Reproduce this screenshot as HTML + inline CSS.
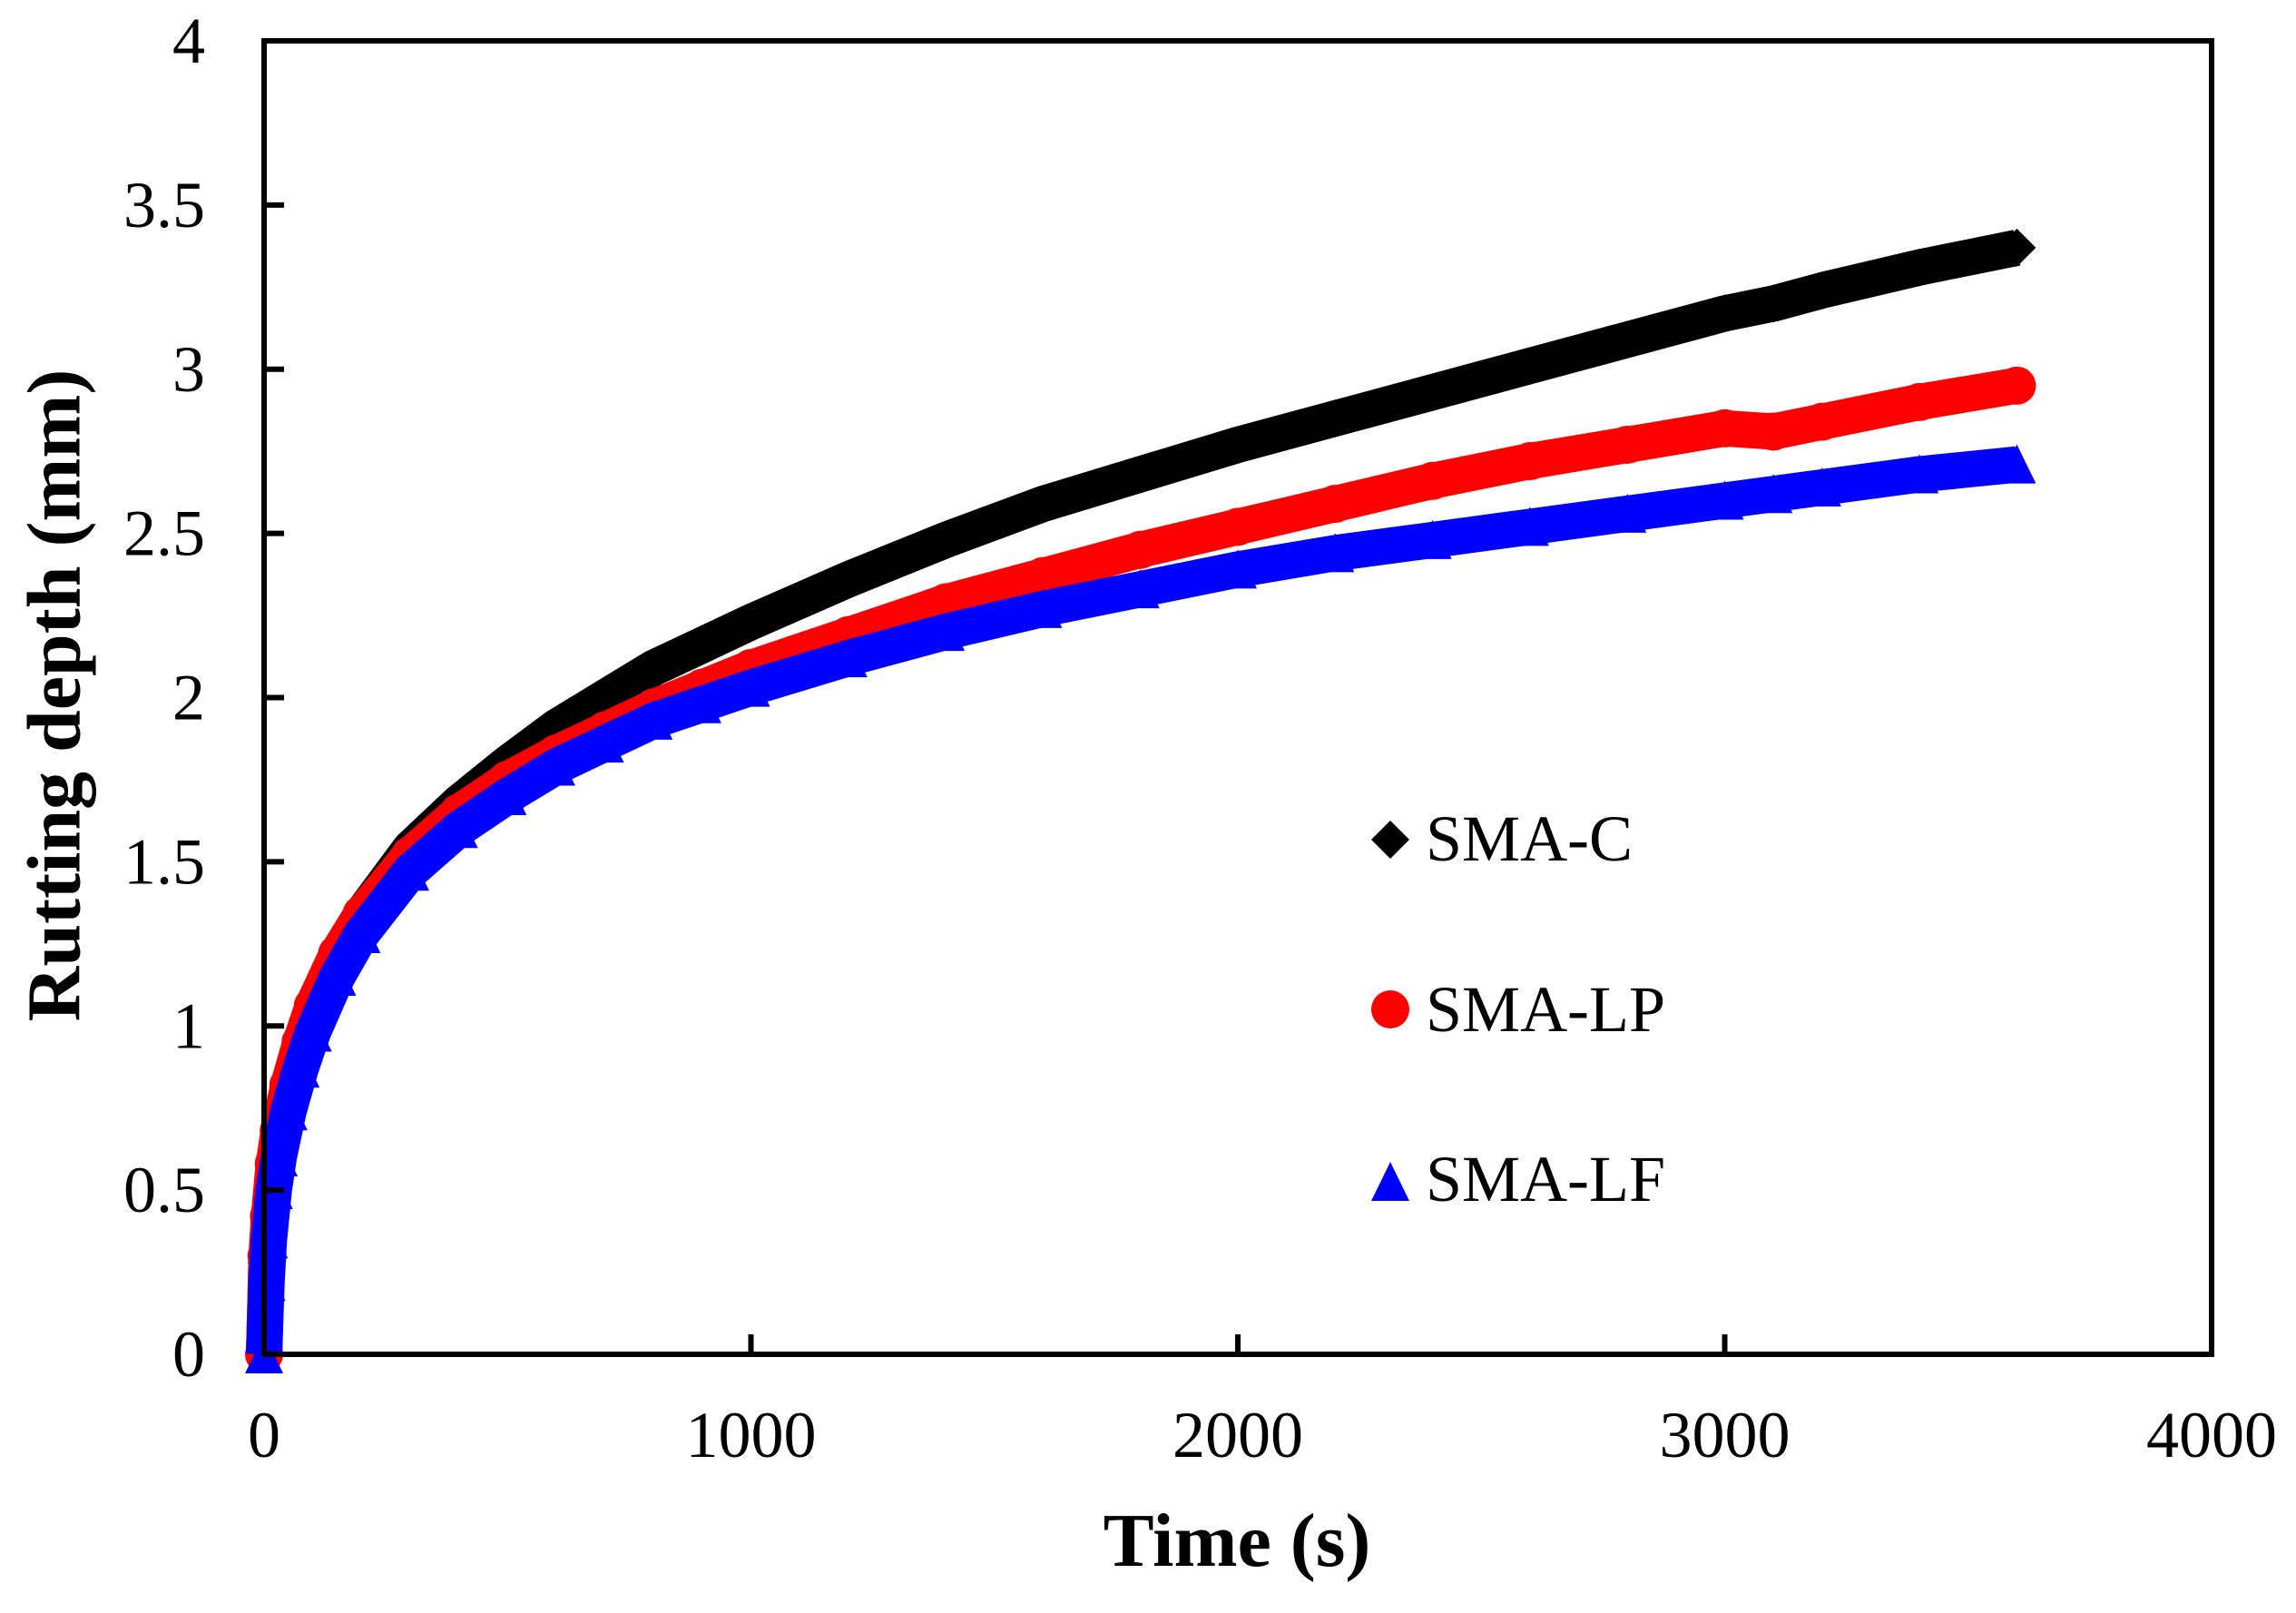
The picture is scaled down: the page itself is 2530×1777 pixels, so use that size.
<!DOCTYPE html>
<html><head><meta charset="utf-8"><style>
html,body{margin:0;padding:0;background:#fff}
svg{display:block}
text{font-family:"Liberation Serif","Times New Roman",serif;fill:#000}
</style></head><body>
<svg id="chart" width="2530" height="1777" viewBox="0 0 2530 1777" xmlns="http://www.w3.org/2000/svg">
<rect width="2530" height="1777" fill="#fff"/>
<g id="series"></g>
<g id="axes"></g>
<text x="68" y="766" font-size="84" font-weight="bold" text-anchor="middle" dominant-baseline="middle" transform="rotate(-90 68 766)">Rutting depth (mm)</text>
<text x="1363" y="1725" font-size="84" font-weight="bold" text-anchor="middle">Time (s)</text>
<g>
  <polygon points="1532,904 1553,925 1532,946 1511,925" fill="#000"/>
  <text x="1571" y="948" font-size="72">SMA-C</text>
  <circle cx="1532" cy="1112" r="21" fill="#ff0000"/>
  <text x="1571" y="1136" font-size="72">SMA-LP</text>
  <polygon points="1532,1280 1553,1323 1511,1323" fill="#0000ff"/>
  <text x="1571" y="1323" font-size="72">SMA-LF</text>
</g>
</svg>
<script>
const times = [0,5,10,20,30,50,75,100,150,200,300,400,500,600,700,800,900,1000,1200,1400,1600,1800,2000,2200,2400,2600,2800,3000,3100,3200,3400,3600];
const smaC = [0,0.28,0.40,0.56,0.66,0.80,0.93,1.04,1.21,1.34,1.54,1.68,1.80,1.91,2.00,2.09,2.16,2.23,2.36,2.48,2.59,2.68,2.77,2.85,2.93,3.01,3.09,3.17,3.20,3.24,3.31,3.37];
const smaLP = [0,0.30,0.42,0.58,0.68,0.82,0.95,1.06,1.22,1.34,1.52,1.65,1.75,1.83,1.90,1.97,2.03,2.09,2.19,2.29,2.37,2.45,2.52,2.59,2.66,2.72,2.77,2.82,2.81,2.84,2.90,2.95];
const smaLF = [0,0.22,0.35,0.50,0.60,0.74,0.87,0.98,1.15,1.28,1.47,1.60,1.70,1.79,1.86,1.93,1.98,2.03,2.12,2.20,2.27,2.33,2.39,2.44,2.48,2.52,2.56,2.60,2.62,2.64,2.68,2.71];
const xTicks = [0,1000,2000,3000,4000];
const xTickLabels = ["0","1000","2000","3000","4000"];
const yTicks = [0,0.5,1,1.5,2,2.5,3,3.5,4];
const yTickLabels = ["0","0.5","1","1.5","2","2.5","3","3.5","4"];

const NS = "http://www.w3.org/2000/svg";
const L = 291, R = 2437, T = 45, B = 1492;
const xMax = 4000, yMax = 4;
const sx = t => L + (t / xMax) * (R - L);
const sy = v => B - (v / yMax) * (B - T);
function mk(tag, attrs, parent){
  const e = document.createElementNS(NS, tag);
  for (const k in attrs) e.setAttribute(k, attrs[k]);
  parent.appendChild(e);
  return e;
}
const sg = document.getElementById('series');
const ag = document.getElementById('axes');

function drawSeries(vals, color, shape, name){
  const g = mk('g', {}, sg);
  
  
  const d = vals.map((v,i) => (i ? 'L' : 'M') + sx(times[i]).toFixed(1) + ' ' + sy(v).toFixed(1)).join(' ');
  const p = mk('path', {d: d, fill: 'none', stroke: color, 'stroke-width': 40, 'stroke-linejoin': 'round', 'stroke-linecap': shape === 'circle' ? 'round' : 'butt'}, g);
  
  
  vals.forEach((v,i) => {
    const x = sx(times[i]), y = sy(v);
    let m;
    if (shape === 'diamond') m = mk('polygon', {points: `${x},${y-21} ${x+21},${y} ${x},${y+21} ${x-21},${y}`, fill: color}, g);
    else if (shape === 'circle') m = mk('circle', {cx: x, cy: y, r: 21, fill: color}, g);
    else m = mk('polygon', {points: `${x},${y-22} ${x+21},${y+21} ${x-21},${y+21}`, fill: color}, g);
    
    
  });
}
drawSeries(smaC, '#000000', 'diamond', 'sma-c');
drawSeries(smaLP, '#ff0000', 'circle', 'sma-lp');
drawSeries(smaLF, '#0000ff', 'triangle', 'sma-lf');

const frame = mk('rect', {x: L, y: T, width: R - L, height: B - T, fill: 'none', stroke: '#000', 'stroke-width': 6}, ag);


yTicks.forEach((v,i) => {
  const y = sy(v);
  const t = mk('line', {x1: L, x2: L + 22, y1: y, y2: y, stroke: '#000', 'stroke-width': 6}, ag);
  
  
  const lb = mk('text', {x: 226, y: y + 24, 'font-size': 72, 'text-anchor': 'end'}, ag);
  lb.textContent = yTickLabels[i];
  
  
});
xTicks.forEach((v,i) => {
  const x = sx(v);
  const t = mk('line', {x1: x, x2: x, y1: B, y2: B - 22, stroke: '#000', 'stroke-width': 6}, ag);
  
  
  const lb = mk('text', {x: x, y: 1605, 'font-size': 72, 'text-anchor': 'middle'}, ag);
  lb.textContent = xTickLabels[i];
  
  
});
</script>
</body></html>
